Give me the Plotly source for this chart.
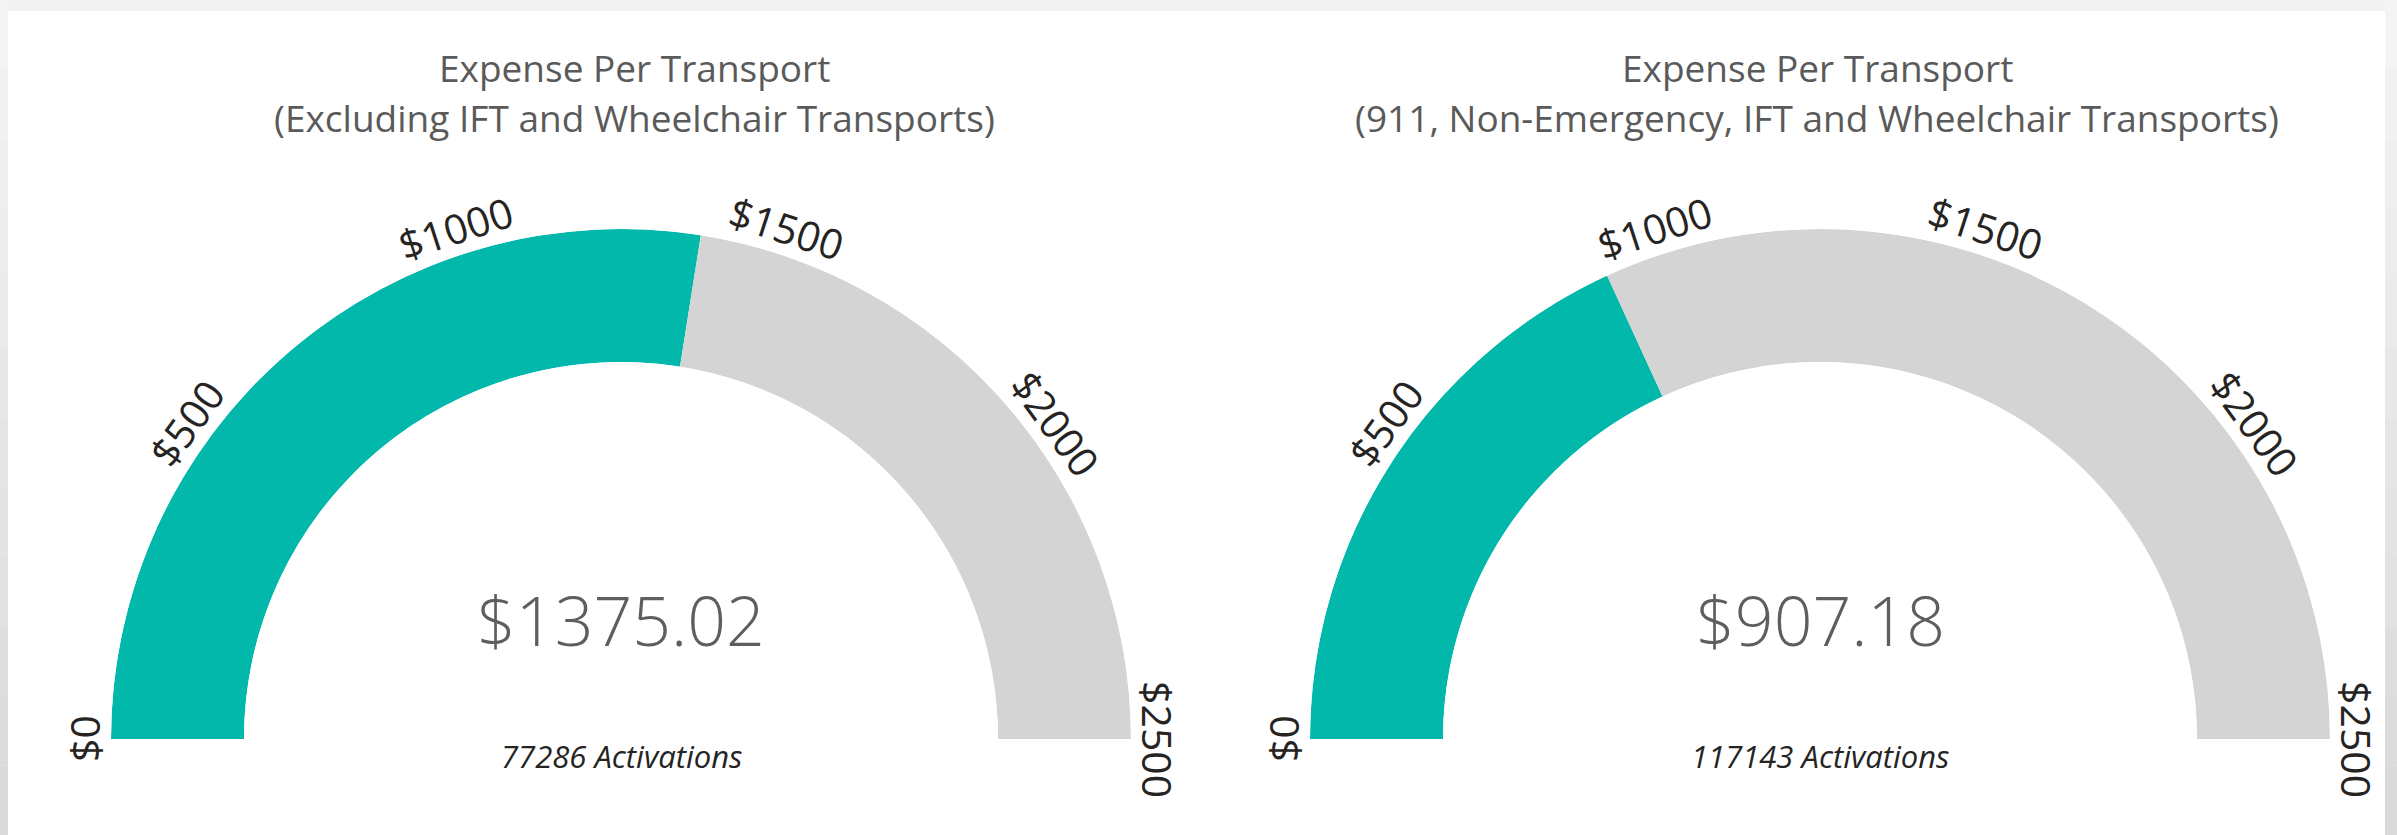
import math
import plotly.graph_objects as go

# ---------------- data ----------------
title_line1 = ["Expense Per Transport", "Expense Per Transport"]
title_line2 = ["(Excluding IFT and Wheelchair Transports)",
               "(911, Non-Emergency, IFT and Wheelchair Transports)"]
expense_values = [1375.02, 907.18]
activations = [77286, 117143]
gauge_min = 0
gauge_max = 2500
tick_values = [0, 500, 1000, 1500, 2000, 2500]
tick_labels = ["$0", "$500", "$1000", "$1500", "$2000", "$2500"]

# ---------------- layout constants (pixels) ----------------
W, H = 2397, 835
gauge_cx = [621, 1820]
title_cx = [634, 1817]
gauge_cy = 739
R_OUT = 510
R_IN = 377
LABEL_R = 537
TEAL = "#01B8AA"
GREY = "#D4D4D4"

deg_per_unit = 180.0 / (gauge_max - gauge_min)

fig = go.Figure()
annotations = []
shapes = []
layout_polars = {}

for i, (v, cx) in enumerate(zip(expense_values, gauge_cx)):
    sub = "polar" if i == 0 else f"polar{i+1}"
    # value arc
    fig.add_trace(go.Barpolar(
        r=[1], theta=[(v - gauge_min) / 2 * deg_per_unit],
        width=[(v - gauge_min) * deg_per_unit],
        marker=dict(color=TEAL, line=dict(width=0)),
        subplot=sub, hoverinfo="skip", showlegend=False))
    # remainder arc
    fig.add_trace(go.Barpolar(
        r=[1], theta=[((v + gauge_max) / 2 - gauge_min) * deg_per_unit],
        width=[(gauge_max - v) * deg_per_unit],
        marker=dict(color=GREY, line=dict(width=0)),
        subplot=sub, hoverinfo="skip", showlegend=False))

    layout_polars[sub] = dict(
        domain=dict(x=[(cx - R_OUT) / W, (cx + R_OUT) / W],
                    y=[(H - gauge_cy) / H, (H - gauge_cy + R_OUT) / H]),
        sector=[0, 180],
        hole=R_IN / R_OUT,
        bgcolor="rgba(0,0,0,0)",
        radialaxis=dict(visible=False, range=[0, 1]),
        angularaxis=dict(visible=False, direction="clockwise", rotation=180),
    )

    # tick labels, tangential to the arc
    for t, lab in zip(tick_values, tick_labels):
        th = math.pi * (1 - (t - gauge_min) / (gauge_max - gauge_min))
        px = cx + LABEL_R * math.cos(th)
        py = gauge_cy - LABEL_R * math.sin(th)
        annotations.append(dict(
            x=px / W, y=1 - py / H, xref="paper", yref="paper",
            text=lab, showarrow=False, textangle=90 - math.degrees(th),
            xanchor="center", yanchor="middle",
            font=dict(family="Open Sans", size=41, color="#252423")))

    # big number
    annotations.append(dict(
        x=cx / W, y=1 - 619 / H, xref="paper", yref="paper",
        text=f"${v:.2f}", showarrow=False, xanchor="center", yanchor="middle",
        font=dict(family="Open Sans", size=68, color="#605E5C", weight=300)))
    # activations
    annotations.append(dict(
        x=cx / W, y=1 - 756 / H, xref="paper", yref="paper",
        text=f"{activations[i]} Activations", showarrow=False,
        xanchor="center", yanchor="middle",
        font=dict(family="Open Sans", size=31, color="#252423", style="italic")))
    # titles
    annotations.append(dict(
        x=title_cx[i] / W, y=1 - 67 / H, xref="paper", yref="paper",
        text=title_line1[i], showarrow=False, xanchor="center", yanchor="middle",
        font=dict(family="Open Sans", size=37, color="#5A5A5A")))
    annotations.append(dict(
        x=title_cx[i] / W, y=1 - 117 / H, xref="paper", yref="paper",
        text=title_line2[i], showarrow=False, xanchor="center", yanchor="middle",
        font=dict(family="Open Sans", size=37, color="#5A5A5A")))

# page frame: light grey border with a white panel
n_bands = 12
for b in range(n_bands):
    g = int(0xF4 - (0xF4 - 0xDA) * b / (n_bands - 1))
    col = f"rgb({g},{g},{g})"
    y0 = 1 - (b + 1) / n_bands
    y1 = 1 - b / n_bands
    shapes.append(dict(type="rect", xref="paper", yref="paper", x0=0, x1=8 / W,
                       y0=y0, y1=y1, fillcolor=col, line=dict(width=0), layer="below"))
    shapes.append(dict(type="rect", xref="paper", yref="paper", x0=2385 / W, x1=1,
                       y0=y0, y1=y1, fillcolor=col, line=dict(width=0), layer="below"))
shapes.append(dict(type="rect", xref="paper", yref="paper", x0=8 / W, x1=2385 / W,
                   y0=0, y1=1 - 11 / H, fillcolor="white", line=dict(width=0), layer="below"))

fig.update_layout(
    width=W, height=H,
    margin=dict(l=0, r=0, t=0, b=0),
    paper_bgcolor="#F3F3F3",
    plot_bgcolor="white",
    annotations=annotations,
    shapes=shapes,
    showlegend=False,
    **layout_polars,
)

fig.write_html(
    "out.html",
    config={"displayModeBar": False},
    post_script="document.body.style.margin='0';document.body.style.overflow='hidden';",
)
